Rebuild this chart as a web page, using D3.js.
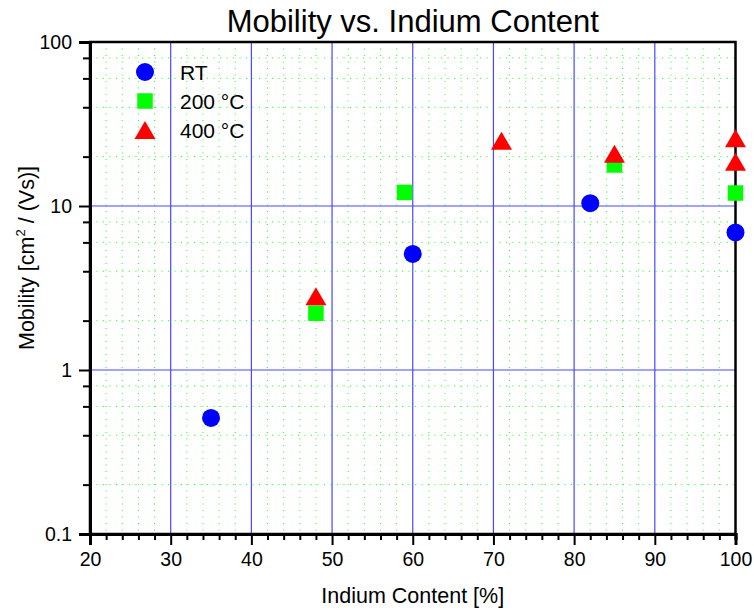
<!DOCTYPE html>
<html>
<head>
<meta charset="utf-8">
<script src="https://cdn.jsdelivr.net/npm/d3@7"></script>
<style>
  body { margin: 0; background: #fff; }
  svg text { font-family: "Liberation Sans", Arial, Helvetica, sans-serif; fill: #000; }
</style>
</head>
<body>
<svg id="chart" width="754" height="611"></svg>
<script>
// values
var rtX = [35, 60, 82, 100];
var rtY = [0.51, 5.1, 10.4, 6.9];
var t200X = [48, 59, 85, 100];
var t200Y = [2.22, 12.1, 17.8, 12.0];
var t400X = [48, 71, 85, 100, 100];
var t400Y = [2.82, 25.0, 20.8, 25.9, 18.6];
var seriesNames = ['RT', '200 °C', '400 °C'];
var xTicks = [20, 30, 40, 50, 60, 70, 80, 90, 100];
var yTicks = [0.1, 1, 10, 100];

var width = 754, height = 611;
var margin = { top: 42, right: 18.5, bottom: 77, left: 90 };
var w = width - margin.left - margin.right;
var h = height - margin.top - margin.bottom;

var svg = d3.select('#chart');
var g = svg.append('g').attr('transform', 'translate(' + margin.left + ',' + margin.top + ')');

var x = d3.scaleLinear().domain([20, 100]).range([0, w]);
var y = d3.scaleLog().domain([0.1, 100]).range([h, 0]);

var xMinor = d3.range(22, 100, 2).filter(function(d) { return d % 10 !== 0; });
var yMinor = [];
[0.1, 1, 10].forEach(function(dec) {
    [2, 4, 6, 8].forEach(function(m) { yMinor.push(dec * m); });
});

// minor grid (green dotted)
var grid = g.append('g');
grid.selectAll('.vmin').data(xMinor).enter().append('line')
    .attr('x1', function(d) { return x(d); }).attr('x2', function(d) { return x(d); })
    .attr('y1', 0).attr('y2', h)
    .style('stroke', '#22ff22').style('stroke-width', 1).style('stroke-dasharray', '1,5.5');
grid.selectAll('.hmin').data(yMinor).enter().append('line')
    .attr('y1', function(d) { return y(d); }).attr('y2', function(d) { return y(d); })
    .attr('x1', 0).attr('x2', w)
    .style('stroke', '#22ff22').style('stroke-width', 1).style('stroke-dasharray', '1,5.5');

// major grid (blue)
grid.selectAll('.vmaj').data(xTicks.slice(1, -1)).enter().append('line')
    .attr('x1', function(d) { return x(d); }).attr('x2', function(d) { return x(d); })
    .attr('y1', 0).attr('y2', h)
    .style('stroke', '#4848ff').style('stroke-width', 1.2);
grid.selectAll('.hmaj').data(yTicks.slice(1, -1)).enter().append('line')
    .attr('y1', function(d) { return y(d); }).attr('y2', function(d) { return y(d); })
    .attr('x1', 0).attr('x2', w)
    .style('stroke', '#4848ff').style('stroke-width', 1.2);

// frame
g.append('rect').attr('width', w).attr('height', h)
    .style('fill', 'none').style('stroke', '#000').style('stroke-width', 2.5);

// axes
g.append('g').attr('class', 'axis').attr('transform', 'translate(0,' + h + ')')
    .call(d3.axisBottom(x).tickValues(xTicks).tickSize(11).tickPadding(7).tickFormat(d3.format('d')));
g.append('g').attr('class', 'axis').attr('transform', 'translate(0,' + h + ')')
    .call(d3.axisBottom(x).tickValues(xMinor).tickSize(6).tickFormat(''));
g.append('g').attr('class', 'axis')
    .call(d3.axisLeft(y).tickValues(yTicks).tickSize(11).tickPadding(7).tickFormat(function(d) { return String(d); }));
g.append('g').attr('class', 'axis')
    .call(d3.axisLeft(y).tickValues(yMinor).tickSize(7).tickFormat(''));

g.selectAll('.axis path.domain').style('stroke', '#000').style('stroke-width', 3);
g.selectAll('.axis line').style('stroke', '#000').style('stroke-width', 2);
g.selectAll('.axis text').style('font-size', '19.5px').style('fill', '#000');

// markers
var tri = 'M0,-9L10.5,9L-10.5,9Z';
var pts = g.append('g');
pts.selectAll('.rt').data(rtX).enter().append('circle')
    .attr('cx', function(d) { return x(d); })
    .attr('cy', function(d, i) { return y(rtY[i]); })
    .attr('r', 9).style('fill', '#0000ff');
pts.selectAll('.t200').data(t200X).enter().append('rect')
    .attr('x', function(d) { return x(d) - 7.75; })
    .attr('y', function(d, i) { return y(t200Y[i]) - 7.75; })
    .attr('width', 15.5).attr('height', 15.5).style('fill', '#00ff00');
pts.selectAll('.t400').data(t400X).enter().append('path')
    .attr('d', tri)
    .attr('transform', function(d, i) { return 'translate(' + x(d) + ',' + y(t400Y[i]) + ')'; })
    .style('fill', '#ff0000');

// legend
var legend = svg.append('g').attr('transform', 'translate(145,72)');
var rowH = 29;
legend.append('circle').attr('cx', 0).attr('cy', 0).attr('r', 9).style('fill', '#0000ff');
legend.append('rect').attr('x', -7.75).attr('y', rowH - 7.75).attr('width', 15.5).attr('height', 15.5).style('fill', '#00ff00');
legend.append('path').attr('d', tri).attr('transform', 'translate(0,' + (rowH * 2) + ')').style('fill', '#ff0000');
legend.selectAll('text').data(seriesNames).enter().append('text')
    .attr('x', 35).attr('y', function(d, i) { return i * rowH + 7.5; })
    .style('font-size', '21px')
    .text(function(d) { return d; });

// title and axis labels
svg.append('text').attr('x', margin.left + w / 2).attr('y', 32)
    .attr('text-anchor', 'middle').style('font-size', '31px')
    .text('Mobility vs. Indium Content');
svg.append('text').attr('x', margin.left + w / 2).attr('y', 603)
    .attr('text-anchor', 'middle').style('font-size', '21.5px')
    .text('Indium Content [%]');
var yl = svg.append('text').attr('transform', 'translate(34,350) rotate(-90)')
    .attr('text-anchor', 'start').style('font-size', '21.5px');
yl.append('tspan').text('Mobility [cm');
yl.append('tspan').attr('dy', -9).style('font-size', '13px').text('2');
yl.append('tspan').attr('dy', 9).text(' / (Vs)]');
</script>
</body>
</html>
